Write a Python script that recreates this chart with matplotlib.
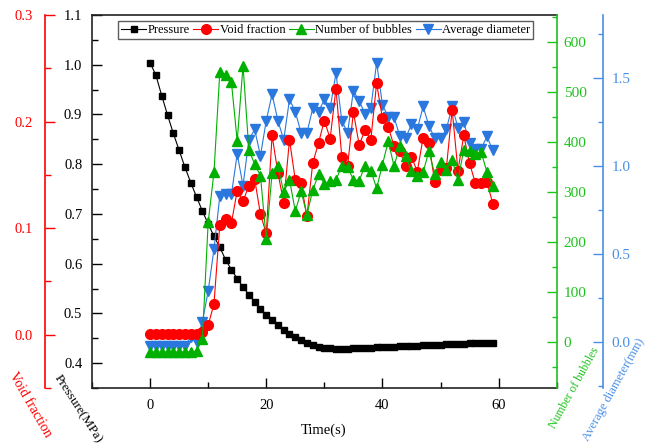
import matplotlib
matplotlib.use("Agg")
import matplotlib.pyplot as plt
from matplotlib.lines import Line2D
from matplotlib.ticker import MultipleLocator, FormatStrFormatter

plt.rcParams['font.family'] = ['Liberation Serif', 'DejaVu Serif']

# ---- data -------------------------------------------------------------
time_s = list(range(60))

pressure_mpa = [
    1.004, 0.979, 0.938, 0.899, 0.862, 0.828, 0.794, 0.763, 0.734, 0.706,
    0.680, 0.655, 0.633, 0.608, 0.588, 0.570, 0.553, 0.538, 0.523, 0.509,
    0.497, 0.486, 0.476, 0.467, 0.459, 0.453, 0.446, 0.441, 0.436, 0.433,
    0.431, 0.430, 0.429, 0.429, 0.429, 0.430, 0.430, 0.431, 0.431, 0.432,
    0.432, 0.433, 0.433, 0.434, 0.434, 0.435, 0.435, 0.436, 0.436, 0.437,
    0.437, 0.438, 0.438, 0.439, 0.439, 0.440, 0.440, 0.440, 0.441, 0.441,
]

void_fraction = [
    0.001, 0.001, 0.001, 0.001, 0.001, 0.001, 0.001, 0.001, 0.001, 0.003,
    0.009, 0.029, 0.103, 0.109, 0.105, 0.135, 0.125, 0.140, 0.146, 0.113,
    0.095, 0.187, 0.152, 0.124, 0.183, 0.145, 0.142, 0.111, 0.161, 0.180,
    0.201, 0.184, 0.231, 0.167, 0.158, 0.209, 0.178, 0.192, 0.183, 0.236,
    0.203, 0.195, 0.177, 0.172, 0.158, 0.167, 0.153, 0.185, 0.180, 0.143,
    0.155, 0.156, 0.211, 0.154, 0.187, 0.161, 0.142, 0.142, 0.143, 0.123,
]

bubble_count = [
    -20, -20, -20, -20, -20, -20, -20, -20, -18, 5,
    239, 339, 539, 534, 519, 401, 552, 384, 355, 332,
    205, 337, 352, 299, 324, 261, 301, 254, 303, 335,
    316, 321, 323, 352, 349, 324, 322, 352, 342, 307,
    354, 401, 351, 392, 371, 341, 331, 339, 381, 335,
    359, 344, 364, 323, 384, 382, 376, 379, 339, 312,
]

avg_diameter_mm = [
    -0.02, -0.02, -0.02, -0.02, -0.02, -0.02, -0.02, 0.03, 0.00, 0.117,
    0.29, 0.53, 0.83, 0.84, 0.84, 1.07, 0.89, 1.15, 1.21, 1.06,
    1.26, 1.41, 1.26, 1.15, 1.38, 1.31, 1.19, 1.19, 1.33, 1.31,
    1.38, 1.33, 1.53, 1.26, 1.19, 1.43, 1.37, 1.30, 1.33, 1.59,
    1.35, 1.28, 1.28, 1.17, 1.16, 1.24, 1.21, 1.34, 1.23, 1.16,
    1.16, 1.21, 1.34, 1.22, 1.25, 1.13, 1.10, 1.10, 1.17, 1.09,
]

series_labels = ["Pressure", "Void fraction", "Number of bubbles", "Average diameter"]

# ---- styling ----------------------------------------------------------
C_P = "#000000"
C_VF = "#FF0000"
C_NB = "#00B000"
C_NB_AX = "#1EC21E"
C_D = "#2A78DE"
C_D_AX = "#4A8FE6"

W, H = 649, 444
fig = plt.figure(figsize=(W / 100, H / 100), dpi=100)

left_px, right_px, top_px, bottom_px = 92, 556.7, 15, 388
ax = fig.add_axes([left_px / W, 1 - bottom_px / H,
                   (right_px - left_px) / W, (bottom_px - top_px) / H])
ax_d = ax.twinx()
ax_vf = ax.twinx()
ax_nb = ax.twinx()

span = right_px - left_px

tick_kw = dict(direction="in", width=1.0)

# pressure (host)
ax.set_xlim(-10, 70)
ax.set_ylim(0.35, 1.1)
ax.xaxis.set_major_locator(MultipleLocator(20))
ax.xaxis.set_minor_locator(MultipleLocator(10))
ax.yaxis.set_major_locator(MultipleLocator(0.1))
ax.yaxis.set_minor_locator(MultipleLocator(0.05))
ax.yaxis.set_major_formatter(FormatStrFormatter("%.1f"))
ax.tick_params(axis="both", which="major", length=7, labelsize=10.5, **tick_kw)
ax.tick_params(axis="both", which="minor", length=4, **tick_kw)
ax.tick_params(axis="y", pad=7)
ax.tick_params(axis="x", pad=8)
ax.tick_params(top=False, right=False, which="both")
for s in ["left", "bottom", "top"]:
    ax.spines[s].set_linewidth(1.2)
    ax.spines[s].set_color("#222222")
ax.spines["right"].set_visible(False)

ax.plot(time_s, pressure_mpa, color=C_P, lw=0.8, marker="s", ms=5,
        mec=C_P, mfc=C_P, zorder=3)

# void fraction (left, offset)
ax_vf.set_ylim(-0.05, 0.3)
ax_vf.yaxis.tick_left()
ax_vf.yaxis.set_label_position("left")
for s in ["top", "bottom", "right"]:
    ax_vf.spines[s].set_visible(False)
ax_vf.spines["left"].set_visible(True)
ax_vf.spines["left"].set_position(("axes", (45 - left_px) / span))
ax_vf.spines["left"].set_color(C_VF)
ax_vf.spines["left"].set_linewidth(1.2)
ax_vf.yaxis.set_major_locator(MultipleLocator(0.1))
ax_vf.yaxis.set_minor_locator(MultipleLocator(0.05))
ax_vf.yaxis.set_major_formatter(FormatStrFormatter("%.1f"))
ax_vf.tick_params(axis="y", which="major", length=7, labelsize=10.5, pad=9,
                  colors=C_VF, **tick_kw)
ax_vf.tick_params(axis="y", which="minor", length=4, colors=C_VF, **tick_kw)
ax_vf.plot(time_s, void_fraction, color=C_VF, lw=0.8, marker="o", ms=7,
           mec=C_VF, mfc=C_VF)

# number of bubbles (right)
ax_nb.set_ylim(-92, 653)
for s in ["top", "bottom", "left"]:
    ax_nb.spines[s].set_visible(False)
ax_nb.spines["right"].set_color(C_NB_AX)
ax_nb.spines["right"].set_linewidth(1.2)
ax_nb.yaxis.set_major_locator(MultipleLocator(100))
ax_nb.yaxis.set_minor_locator(MultipleLocator(50))
ax_nb.tick_params(axis="y", which="major", length=7, labelsize=11, pad=5,
                  colors=C_NB_AX, **tick_kw)
ax_nb.tick_params(axis="y", which="minor", length=3.5, colors=C_NB_AX, **tick_kw)
ax_nb.plot(time_s, bubble_count, color=C_NB, lw=0.8, marker="^", ms=6.5,
           mec=C_NB, mfc=C_NB)

# average diameter (right, offset)
ax_d.set_ylim(-0.26, 1.86)
for s in ["top", "bottom", "left"]:
    ax_d.spines[s].set_visible(False)
ax_d.spines["right"].set_position(("axes", (603.3 - left_px) / span))
ax_d.spines["right"].set_color(C_D_AX)
ax_d.spines["right"].set_linewidth(1.2)
ax_d.yaxis.set_major_locator(MultipleLocator(0.5))
ax_d.yaxis.set_minor_locator(MultipleLocator(0.25))
ax_d.yaxis.set_major_formatter(FormatStrFormatter("%.1f"))
ax_d.tick_params(axis="y", which="major", length=7, labelsize=11, pad=6,
                 colors=C_D_AX, **tick_kw)
ax_d.tick_params(axis="y", which="minor", length=3.5, colors=C_D_AX, **tick_kw)
ax_d.plot(time_s, avg_diameter_mm, color=C_D, lw=0.8, marker="v", ms=6.5,
          mec=C_D, mfc=C_D)

# axis titles
fig.text(324 / W, 1 - 430 / H, "Time(s)", ha="center", va="center", fontsize=10.5)
fig.text(30 / W, 1 - 405 / H, "Void fraction", ha="center", va="center",
         rotation=-60, rotation_mode="anchor", color=C_VF, fontsize=10)
fig.text(78 / W, 1 - 409 / H, "Pressure(MPa)", ha="center", va="center",
         rotation=-57, rotation_mode="anchor", color=C_P, fontsize=9.5)
fig.text(574 / W, 1 - 388 / H, "Number of bubbles", ha="center", va="center",
         rotation=61, rotation_mode="anchor", color=C_NB_AX, fontsize=8.5)
fig.text(614 / W, 1 - 390 / H, "Average diameter(mm)", ha="center", va="center",
         rotation=61, rotation_mode="anchor", color=C_D_AX, fontsize=9)

# legend
handles = [
    Line2D([], [], color=C_P, lw=0.8, marker="s", ms=5),
    Line2D([], [], color=C_VF, lw=0.8, marker="o", ms=7),
    Line2D([], [], color=C_NB, lw=0.8, marker="^", ms=6.5),
    Line2D([], [], color=C_D, lw=0.8, marker="v", ms=6.5),
]
leg = fig.legend(handles, series_labels, loc="upper left",
                 bbox_to_anchor=(118 / W, 1 - 21 / H), ncol=4, frameon=True,
                 fancybox=False, edgecolor="#333333", fontsize=9,
                 handlelength=2.0, handletextpad=0.1, columnspacing=0.3,
                 borderpad=0.25, borderaxespad=0)
leg.get_frame().set_linewidth(1.0)

fig.savefig("out.png", dpi=100)
